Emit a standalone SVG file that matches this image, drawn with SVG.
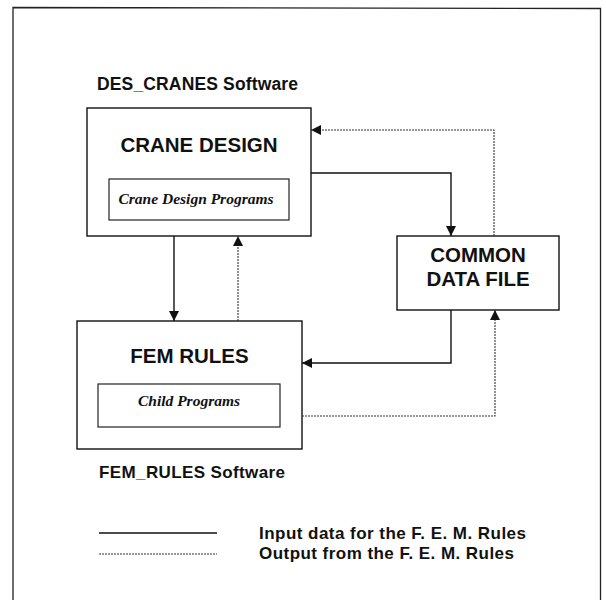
<svg xmlns="http://www.w3.org/2000/svg" width="606" height="600" viewBox="0 0 606 600">
  <style>
    .frame { fill: none; stroke: #222; stroke-width: 1.3; }
    .box { fill: #fff; stroke: #111; stroke-width: 1.4; }
    .inner { fill: #fff; stroke: #222; stroke-width: 1.2; }
    .title { font-family: "Liberation Sans", Arial, sans-serif; font-weight: bold; fill: #111; text-anchor: middle; }
    .label { font-family: "Liberation Sans", Arial, sans-serif; font-weight: bold; fill: #111; }
    .sub { font-family: "Liberation Serif", "Times New Roman", serif; font-weight: bold; font-style: italic; fill: #111; text-anchor: middle; }
    .input { fill: none; stroke: #111; stroke-width: 1.4; }
    .output { fill: none; stroke: #333; stroke-width: 1.1; stroke-dasharray: 2 1; }
  </style>
  <defs>
    <marker id="arrow" viewBox="0 0 10 10" refX="10" refY="5" markerWidth="10" markerHeight="10" markerUnits="userSpaceOnUse" orient="auto">
      <path d="M0,0 L10,5 L0,10 Z" fill="#111"/>
    </marker>
  </defs>

  <rect width="606" height="600" fill="#fff"/>

  <!-- page frame (open at the bottom) -->
  <path class="frame" d="M13,600 L13,7.5 L600.5,8.5 L600.5,600"/>

  <!-- captions -->
  <text class="label" x="97" y="90" font-size="17.5" textLength="201">DES_CRANES Software</text>
  <text class="label" x="99" y="478" font-size="17" textLength="186">FEM_RULES Software</text>

  <g id="crane-design">
    <rect class="box" x="87" y="108" width="224" height="128"/>
    <text class="title" x="199" y="152" font-size="20.5">CRANE DESIGN</text>
    <rect class="inner" x="109" y="179" width="180" height="41"/>
    <text class="sub" x="196" y="204" font-size="15.5">Crane Design Programs</text>
  </g>

  <g id="fem-rules">
    <rect class="box" x="77" y="321" width="225" height="128"/>
    <text class="title" x="189.5" y="363" font-size="20.5">FEM RULES</text>
    <rect class="inner" x="98" y="384" width="182" height="43"/>
    <text class="sub" x="189" y="406" font-size="15.5">Child Programs</text>
  </g>

  <g id="common-data-file">
    <rect class="box" x="397" y="236" width="162" height="74"/>
    <text class="title" x="478" y="262" font-size="20.5">COMMON</text>
    <text class="title" x="478" y="286" font-size="20.5">DATA FILE</text>
  </g>

  <g id="connectors">
    <!-- input data (solid) -->
    <path class="input" d="M174,236 L174,321" marker-end="url(#arrow)"/>
    <path class="input" d="M311,173 L451,173 L451,236" marker-end="url(#arrow)"/>
    <path class="input" d="M451,310 L451,363 L302,363" marker-end="url(#arrow)"/>
    <!-- output (dotted) -->
    <path class="output" d="M238,321 L238,236" marker-end="url(#arrow)"/>
    <path class="output" d="M494,236 L494,130 L311,130" marker-end="url(#arrow)"/>
    <path class="output" d="M302,416 L495,416 L495,310" marker-end="url(#arrow)"/>
  </g>

  <g id="legend">
    <line class="input" x1="99" y1="533" x2="217" y2="533"/>
    <line class="output" x1="99" y1="554" x2="217" y2="554"/>
    <text class="label" x="259" y="539" font-size="17" textLength="267">Input data for the F. E. M. Rules</text>
    <text class="label" x="259" y="559" font-size="17" textLength="255">Output from the F. E. M. Rules</text>
  </g>
</svg>
